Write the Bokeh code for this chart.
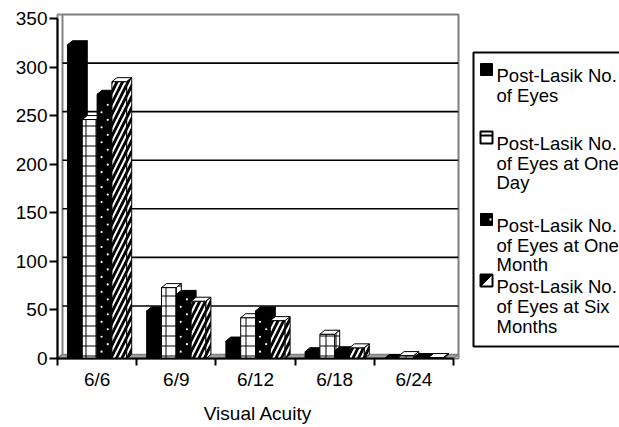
import numpy as np
from bokeh.plotting import figure
from bokeh.layouts import row
from bokeh.models import Range1d, FixedTicker
from bokeh.core.properties import value
from bokeh.embed import file_html
from bokeh.resources import INLINE

# ---------------- data ----------------
categories = ["6/6", "6/9", "6/12", "6/18", "6/24"]
series_labels = [
    "Post-Lasik No.\nof Eyes",
    "Post-Lasik No.\nof Eyes at One\nDay",
    "Post-Lasik No.\nof Eyes at One\nMonth",
    "Post-Lasik No.\nof Eyes at Six\nMonths",
]
eyes = [323, 49, 18, 7, 0]
eyes_one_day = [246, 73, 42, 25, 3]
eyes_one_month = [272, 66, 49, 8, 1]
eyes_six_months = [285, 59, 39, 11, 1]
y_ticks = [0, 50, 100, 150, 200, 250, 300, 350]
x_title = "Visual Acuity"

FONT = "Liberation Sans"
FS = "19px"
LFS = "18.5px"

# ---------------- geometry (styling) ----------------
n = len(categories)
frame_w, frame_h = 401, 344
top_b, bot_b = 14, 69
xmax = n + 5 / 79.2
ymax = 350 + 4 / 0.9714
bw = 0.187            # bar front width in category units
dx = 0.063            # 3-D depth, x
dy = 4.1              # 3-D depth, y

p = figure(width=460, height=427, frame_width=frame_w, frame_height=frame_h,
           x_range=Range1d(0, xmax), y_range=Range1d(0, ymax),
           output_backend="svg", toolbar_location=None,
           min_border_left=57, min_border_top=top_b, min_border_right=2,
           min_border_bottom=bot_b)
p.background_fill_color = "white"
p.border_fill_color = "white"
p.outline_line_color = "#808080"
p.outline_line_width = 2
p.xgrid.visible = False
p.ygrid.visible = False

# walls
p.patch([0, dx, dx, 0], [0, dy, ymax, ymax], fill_color="white",
        line_color="#808080", line_width=2)
p.patch([0, n, n + dx, dx], [0, 0, dy, dy], fill_color="#a0a0a0",
        line_color="#808080", line_width=1.5)
# back-wall gridlines
gy = [t + dy for t in y_ticks[1:-1]]
p.segment(x0=[dx] * len(gy), y0=gy, x1=[xmax] * len(gy), y1=gy,
          line_color="black", line_width=1.6)

styles = [
    dict(fill_color="black"),
    dict(fill_color="white", hatch_pattern="+", hatch_color="black",
         hatch_scale=10, hatch_weight=1),
    dict(fill_color="black"),
    dict(fill_color="white", hatch_pattern="/", hatch_color="black",
         hatch_scale=11, hatch_weight=2.8),
]
all_series = [eyes, eyes_one_day, eyes_one_month, eyes_six_months]

idx = np.arange(n) + 0.5
for k, vals in enumerate(all_series):
    v = np.array(vals, dtype=float)
    left = idx + (k - 2) * bw
    right = left + bw
    st = styles[k]
    p.quad(left=left, right=right, bottom=0, top=v, line_color="black",
           line_width=1, **st)
    tops_x = [[l, rr, rr + dx, l + dx] for l, rr in zip(left, right)]
    tops_y = [[t, t, t + dy, t + dy] for t in v]
    p.patches(tops_x, tops_y, line_color="black", line_width=1,
              fill_color=st["fill_color"])
    side_x = [[rr, rr + dx, rr + dx, rr] for rr in right]
    side_y = [[0, dy, t + dy, t] for t in v]
    p.patches(side_x, side_y, line_color="black", line_width=1, **st)
    if k == 2:
        # sparse white dot texture on the dotted bars
        dxs, dys = [], []
        for l, t in zip(left, v):
            yy = 7.0
            j = 0
            while yy < t - 4:
                dxs.append(l + (0.3 if j % 2 == 0 else 0.72) * bw)
                dys.append(yy)
                yy += 7.7
                j += 1
        p.scatter(x=dxs, y=dys, size=2.2, marker="circle",
                  fill_color="white", line_color=None)

# axes
xa = p.xaxis[0]
xa.ticker = FixedTicker(ticks=list(idx), minor_ticks=list(range(n + 1)))
xa.major_label_overrides = {float(t): c for t, c in zip(idx, categories)}
xa.bounds = (0, n)
xa.major_tick_out = 0
xa.major_tick_in = 0
xa.minor_tick_out = 7
xa.minor_tick_in = 0
xa.minor_tick_line_width = 2
xa.minor_tick_line_color = "black"
xa.axis_line_width = 2
xa.axis_line_color = "black"
xa.major_label_standoff = 3
xa.axis_label = x_title
xa.axis_label_standoff = 10
xa.axis_label_text_font_style = "normal"

ya = p.yaxis[0]
ya.ticker = FixedTicker(ticks=y_ticks)
ya.bounds = (0, 350)
ya.major_tick_out = 8
ya.major_tick_in = 0
ya.minor_tick_out = 0
ya.minor_tick_in = 0
ya.major_tick_line_width = 2
ya.major_tick_line_color = "black"
ya.axis_line_width = 2
ya.axis_line_color = "black"
ya.major_label_standoff = 2

for ax in (xa, ya):
    ax.major_label_text_font = FONT
    ax.major_label_text_font_size = FS
    ax.major_label_text_color = "black"
    ax.axis_label_text_font = FONT
    ax.axis_label_text_font_size = FS
    ax.axis_label_text_color = "black"

# ---------------- legend panel (page-pixel coordinates) ----------------
q = figure(width=159, height=427, frame_width=159, frame_height=frame_h,
           x_range=Range1d(460, 619), y_range=Range1d(top_b + frame_h, top_b),
           output_backend="svg", toolbar_location=None,
           x_axis_type=None, y_axis_type=None,
           min_border_left=0, min_border_right=0, min_border_top=top_b,
           min_border_bottom=bot_b)
q.xgrid.visible = False
q.ygrid.visible = False
q.outline_line_color = None
q.background_fill_color = "white"
q.border_fill_color = "white"

q.quad(left=473, right=660, top=52, bottom=346, fill_color="white",
       line_color="black", line_width=2)

baselines = [[75, 95], [143, 162.5, 182], [225, 244.5, 264], [286, 306, 326]]
tx, ty, tt = [], [], []
for lab, bl in zip(series_labels, baselines):
    for line, b in zip(lab.split("\n"), bl):
        tx.append(496)
        ty.append(b)
        tt.append(line)
q.text(x=tx, y=ty, text=tt, text_font=value(FONT), text_font_size=LFS,
       text_baseline="alphabetic", text_align="left", text_color="black")

# legend swatches, aligned to first line of each entry
sw_l, sw_r = 480, 492
sb = [bl[0] for bl in baselines]
st_ = [b - 12 for b in sb]
# 1: solid black
q.quad(left=sw_l, right=sw_r, top=st_[0], bottom=sb[0], fill_color="black",
       line_color="black", line_width=1)
# 2: white box with bar across the top
q.quad(left=sw_l, right=sw_r, top=st_[1], bottom=sb[1], fill_color="white",
       line_color="black", line_width=2)
q.segment(x0=[sw_l], y0=[st_[1] + 4], x1=[sw_r], y1=[st_[1] + 4],
          line_color="black", line_width=2)
# 3: black with a white dot
q.quad(left=sw_l, right=sw_r, top=st_[2], bottom=sb[2], fill_color="black",
       line_color="black", line_width=1)
q.scatter(x=[sw_r - 2], y=[(st_[2] + sb[2]) / 2], size=2, marker="square",
          fill_color="white", line_color=None)
# 4: half black, half white diagonally
q.quad(left=sw_l, right=sw_r, top=st_[3], bottom=sb[3], fill_color="white",
       line_color="black", line_width=2)
q.patch([sw_l, sw_r, sw_l], [st_[3], st_[3], sb[3]], fill_color="black",
        line_color="black", line_width=1)

layout = row(p, q)
open("out.html", "w").write(file_html(layout, INLINE))
